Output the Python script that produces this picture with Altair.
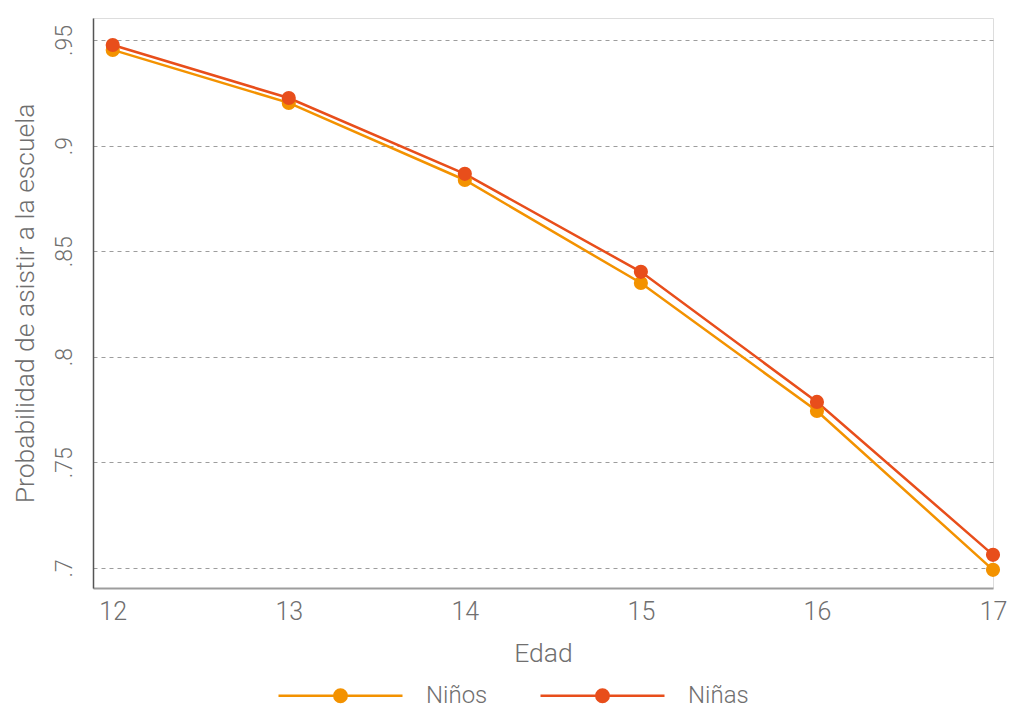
import altair as alt
import pandas as pd

edad = [12, 13, 14, 15, 16, 17]
ninos = [0.9453, 0.9202, 0.8837, 0.8349, 0.7743, 0.6991]
ninas = [0.9476, 0.9225, 0.8866, 0.8402, 0.7786, 0.7062]
series = ["Niños", "Niñas"]
colors = ["#F39200", "#E84E1B"]
y_ticks = [0.7, 0.75, 0.8, 0.85, 0.9, 0.95]

df = pd.DataFrame({
    "edad": edad * 2,
    "prob": ninos + ninas,
    "grupo": [series[0]] * len(edad) + [series[1]] * len(edad),
})

FONT = "Roboto"
TXT = "#706f6f"

sym_path = "M-1,0L1,0M-0.1,0A0.1,0.1,0,1,1,0.1,0A0.1,0.1,0,1,1,-0.1,0Z"

color = alt.Color(
    "grupo:N",
    scale=alt.Scale(domain=series, range=colors),
    sort=series,
    legend=alt.Legend(
        title=None,
        orient="none",
        direction="horizontal",
        legendX=184,
        legendY=614,
        symbolType=sym_path,
        symbolSize=15376,
        symbolStrokeWidth=2.5,
        symbolOpacity=1,
        labelFont=FONT,
        labelFontSize=24,
        labelFontWeight=300,
        labelColor=TXT,
        labelOffset=22,
        columnPadding=47,
        padding=0,
    ),
)

x = alt.X(
    "edad:Q",
    scale=alt.Scale(domain=[11.888, 17.0], nice=False, zero=False),
    axis=alt.Axis(
        values=edad, format="d", title="Edad", grid=False, ticks=False,
        labelFlush=False,
        domainColor="#9d9d9d", domainWidth=2,
        labelFont=FONT, labelFontSize=25, labelFontWeight=300, labelColor=TXT,
        labelPadding=11, titleFont=FONT, titleFontSize=26.5, titleFontWeight=300,
        titleColor=TXT, titlePadding=16,
    ),
)
y = alt.Y(
    "prob:Q",
    scale=alt.Scale(domain=[0.6905, 0.9604], nice=False, zero=False),
    axis=alt.Axis(
        values=y_ticks, title="Probabilidad de asistir a la escuela",
        labelExpr="replace(format(datum.value, '.2~f'), '0.', '.')",
        labelAngle=270, labelAlign="center", labelBaseline="bottom",
        labelFlush=False,
        ticks=False, grid=True, gridDash=[4, 4], gridColor="#9d9d9d", gridWidth=1,
        domainColor="#555555", domainWidth=1.5,
        labelFont=FONT, labelFontSize=23, labelFontWeight=300, labelColor=TXT,
        labelPadding=17, titleFont=FONT, titleFontSize=26.5, titleFontWeight=300,
        titleColor=TXT, titlePadding=14,
    ),
)

base = alt.Chart(df).encode(x=x, y=y, color=color)
lines = base.mark_line(strokeWidth=2.5, clip=False)
points = base.mark_point(filled=True, size=200, opacity=1, clip=False)

chart = (
    alt.layer(lines, points)
    .properties(
        width=900, height=570,
        autosize=alt.AutoSizeParams(type="none"),
        padding={"left": 85, "top": 10, "right": 14, "bottom": 124},
    )
    .configure_view(stroke=None)
    .configure(background="white")
)

chart.save("out.html", embed_options={"renderer": "svg", "actions": False})
